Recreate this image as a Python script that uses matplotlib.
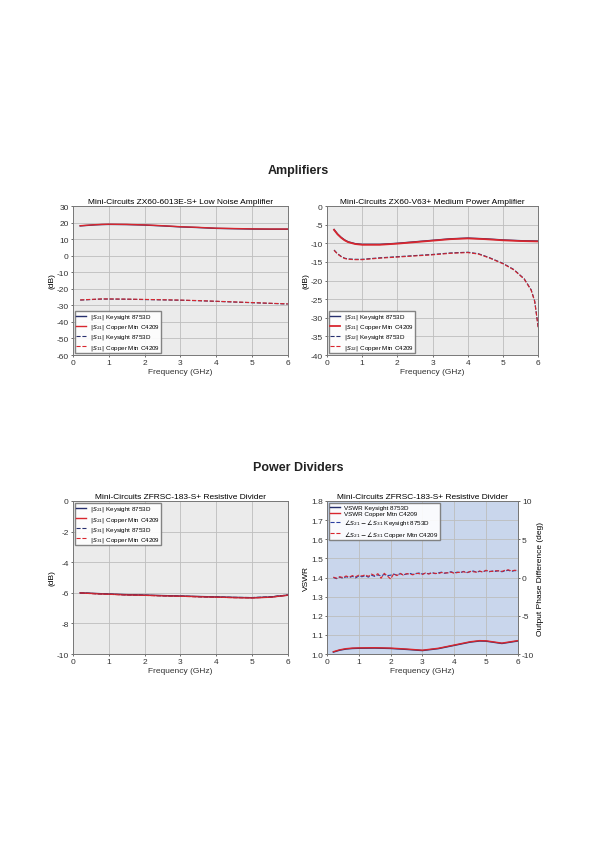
import numpy as np
import matplotlib
matplotlib.use("Agg")
import matplotlib.pyplot as plt

# ---------------- data ----------------
f_lna = [0.2, 0.4, 0.6, 0.8, 1.0, 1.5, 2.0, 2.5, 3.0, 3.5, 4.0, 4.5, 5.0, 5.5, 6.0]
lna_s21_ks = [18.0, 18.3, 18.6, 18.8, 18.9, 18.8, 18.5, 18.0, 17.4, 17.0, 16.5, 16.3, 16.1, 16.0, 16.0]
lna_s21_cm = [18.1, 18.4, 18.7, 18.9, 19.0, 18.9, 18.6, 18.1, 17.5, 17.1, 16.6, 16.4, 16.2, 16.1, 16.1]
lna_s11_ks = [-26.8, -26.6, -26.4, -26.2, -26.2, -26.3, -26.5, -26.7, -26.9, -27.2, -27.6, -28.0, -28.4, -28.8, -29.2]
lna_s11_cm = [-26.7, -26.5, -26.3, -26.1, -26.1, -26.2, -26.4, -26.6, -26.8, -27.1, -27.5, -27.9, -28.3, -28.7, -29.1]

f_pa = [0.2, 0.3, 0.4, 0.5, 0.6, 0.8, 1.0, 1.5, 2.0, 2.5, 3.0, 3.5, 4.0, 4.5, 5.0, 5.5, 6.0]
pa_s21_ks = [-6.3, -7.5, -8.4, -9.1, -9.6, -10.1, -10.3, -10.3, -10.0, -9.6, -9.2, -8.8, -8.6, -8.8, -9.1, -9.3, -9.4]
pa_s21_cm = [-6.4, -7.6, -8.5, -9.2, -9.7, -10.2, -10.4, -10.4, -10.1, -9.7, -9.3, -8.9, -8.7, -8.9, -9.2, -9.4, -9.5]
f_pa11 = [0.2, 0.3, 0.4, 0.5, 0.6, 0.8, 1.0, 1.5, 2.0, 2.5, 3.0, 3.5, 4.0, 4.3, 4.6, 5.0, 5.3, 5.6, 5.8, 5.9, 6.0]
pa_s11_ks = [-11.8, -12.8, -13.5, -14.0, -14.2, -14.3, -14.3, -13.9, -13.6, -13.3, -13.0, -12.6, -12.4,
             -12.8, -13.8, -15.4, -17.0, -19.5, -22.5, -25.5, -32.5]
pa_s11_cm = [-11.9, -12.9, -13.6, -14.1, -14.3, -14.4, -14.4, -14.0, -13.7, -13.4, -13.1, -12.7, -12.5,
             -12.9, -13.9, -15.5, -17.1, -19.6, -22.6, -25.6, -32.6]

f_div = [0.2, 0.4, 0.6, 0.8, 1.0, 1.5, 2.0, 2.5, 3.0, 3.5, 4.0, 4.5, 5.0, 5.5, 6.0]
div_s21_ks = [-6.00, -6.02, -6.04, -6.06, -6.08, -6.12, -6.15, -6.18, -6.21, -6.24, -6.27, -6.30, -6.32, -6.28, -6.15]
div_s21_cm = [-6.01, -6.03, -6.05, -6.07, -6.09, -6.13, -6.16, -6.19, -6.22, -6.25, -6.28, -6.31, -6.33, -6.29, -6.16]
div_s31_ks = [-6.02, -6.03, -6.05, -6.07, -6.09, -6.13, -6.16, -6.19, -6.22, -6.25, -6.28, -6.30, -6.31, -6.27, -6.14]
div_s31_cm = [-6.01, -6.04, -6.06, -6.08, -6.10, -6.14, -6.17, -6.20, -6.23, -6.26, -6.29, -6.32, -6.33, -6.29, -6.15]

f_vswr = [0.2, 0.4, 0.6, 0.8, 1.0, 1.5, 2.0, 2.5, 3.0, 3.5, 4.0, 4.5, 4.8, 5.0, 5.5, 6.0]
vswr_ks = [1.010, 1.020, 1.026, 1.029, 1.030, 1.031, 1.029, 1.024, 1.018, 1.028, 1.045, 1.062, 1.068, 1.067, 1.055, 1.068]
vswr_cm = [1.012, 1.022, 1.028, 1.031, 1.032, 1.033, 1.031, 1.026, 1.020, 1.030, 1.047, 1.064, 1.070, 1.069, 1.057, 1.070]

f_ph = [0.2, 0.3, 0.4, 0.5, 0.6, 0.7, 0.8, 0.9, 1.0, 1.1, 1.2, 1.3, 1.4, 1.5, 1.6, 1.7, 1.8, 1.9, 2.0,
        2.1, 2.2, 2.3, 2.4, 2.5, 2.6, 2.7, 2.8, 2.9, 3.0, 3.1, 3.2, 3.3, 3.4, 3.5, 3.6, 3.7, 3.8, 3.9,
        4.0, 4.1, 4.2, 4.3, 4.4, 4.5, 4.6, 4.7, 4.8, 4.9, 5.0, 5.1, 5.2, 5.3, 5.4, 5.5, 5.6, 5.7, 5.8, 5.9, 6.0]
phase_ks = [0.0, -0.15, 0.05, -0.1, 0.1, 0.0, 0.15, -0.05, 0.2, 0.1, 0.25, 0.05, 0.3, 0.15, 0.35, 0.2,
            0.4, 0.25, 0.3, 0.45, 0.3, 0.5, 0.35, 0.45, 0.55, 0.4, 0.5, 0.6, 0.45, 0.55, 0.5, 0.65, 0.5,
            0.6, 0.7, 0.55, 0.65, 0.75, 0.6, 0.7, 0.65, 0.8, 0.65, 0.75, 0.85, 0.7, 0.8, 0.75, 0.9, 0.75,
            0.85, 0.8, 0.9, 0.75, 0.85, 0.95, 0.8, 0.9, 0.85]
phase_cm = [0.05, -0.1, 0.1, 0.0, 0.2, 0.05, 0.25, 0.1, 0.3, 0.2, 0.35, 0.15, 0.45, 0.25, 0.5, -0.1,
            0.55, 0.2, -0.2, 0.5, 0.25, 0.55, 0.3, 0.5, 0.45, 0.35, 0.55, 0.5, 0.4, 0.6, 0.45, 0.6, 0.55,
            0.5, 0.65, 0.6, 0.6, 0.7, 0.55, 0.65, 0.7, 0.75, 0.6, 0.8, 0.75, 0.7, 0.85, 0.7, 0.95, 0.8,
            0.8, 0.9, 0.85, 0.8, 0.95, 1.0, 0.85, 0.95, 0.9]

NAVY = "#27306e"
RED = "#d8262e"
GRAYBG = "#ebebeb"
BLUEBG = "#c9d6ec"

plt.rcParams["font.family"] = ["Liberation Sans", "DejaVu Sans"]
plt.rcParams["font.size"] = 6
plt.rcParams["axes.unicode_minus"] = False

fig = plt.figure(figsize=(6.0, 8.53), dpi=100)
fig.patch.set_facecolor("white")

LEG = dict(fontsize=4.5, frameon=True, edgecolor="#777777", fancybox=False, handlelength=1.6,
           borderpad=0.25, labelspacing=0.18, handletextpad=0.5, borderaxespad=0.3, framealpha=0.9)


def style(ax, bg):
    ax.set_facecolor(bg)
    ax.grid(True, color="#bdbdbd", lw=0.6)
    ax.set_axisbelow(True)
    for s in ax.spines.values():
        s.set_color("#777777")
        s.set_linewidth(0.7)
    ax.tick_params(length=1.5, width=0.5, colors="#333333", labelsize=6, pad=1.5)
    ax.set_xlim(0, 6)
    ax.set_xticks(range(7))
    ax.set_xlabel("Frequency (GHz)", fontsize=6, labelpad=1, color="#333333")


fig.text(0.497, 0.800, "Amplifiers", ha="center", va="center", fontsize=9, fontweight="bold", color="#222222")
fig.text(0.497, 0.451, "Power Dividers", ha="center", va="center", fontsize=9, fontweight="bold", color="#222222")

# LNA
ax1 = fig.add_axes([0.1217, 0.5826, 0.358, 0.1747])
style(ax1, GRAYBG)
ax1.plot(f_lna, lna_s21_ks, color=NAVY, lw=1.0, label=r"$|S_{21}|$ Keysight 8753D")
ax1.plot(f_lna, lna_s21_cm, color=RED, lw=1.0, label=r"$|S_{21}|$ Copper Mtn C4209")
ax1.plot(f_lna, lna_s11_ks, color=NAVY, lw=0.8, ls="--", label=r"$|S_{11}|$ Keysight 8753D")
ax1.plot(f_lna, lna_s11_cm, color=RED, lw=0.8, ls="--", label=r"$|S_{11}|$ Copper Mtn C4209")
ax1.set_ylim(-60, 30)
ax1.set_yticks(range(-60, 31, 10))
ax1.set_ylabel("(dB)", fontsize=6, labelpad=1)
ax1.set_title("Mini-Circuits ZX60-6013E-S+ Low Noise Amplifier", fontsize=6, pad=2)
ax1.legend(loc="lower left", **LEG)

# PA
ax2 = fig.add_axes([0.545, 0.5826, 0.352, 0.1747])
style(ax2, GRAYBG)
ax2.plot(f_pa, pa_s21_ks, color=NAVY, lw=1.0, label=r"$|S_{21}|$ Keysight 8753D")
ax2.plot(f_pa, pa_s21_cm, color=RED, lw=1.3, label=r"$|S_{21}|$ Copper Mtn C4209")
ax2.plot(f_pa11, pa_s11_ks, color=NAVY, lw=0.8, ls="--", label=r"$|S_{22}|$ Keysight 8753D")
ax2.plot(f_pa11, pa_s11_cm, color=RED, lw=0.8, ls="--", label=r"$|S_{22}|$ Copper Mtn C4209")
ax2.set_ylim(-40, 0)
ax2.set_yticks(range(-40, 1, 5))
ax2.set_ylabel("(dB)", fontsize=6, labelpad=1)
ax2.set_title("Mini-Circuits ZX60-V63+ Medium Power Amplifier", fontsize=6, pad=2)
ax2.legend(loc="lower left", **LEG)

# Divider magnitude
ax3 = fig.add_axes([0.1217, 0.2321, 0.358, 0.1794])
style(ax3, GRAYBG)
ax3.plot(f_div, div_s21_ks, color=NAVY, lw=1.0, label=r"$|S_{21}|$ Keysight 8753D")
ax3.plot(f_div, div_s21_cm, color=RED, lw=1.0, label=r"$|S_{21}|$ Copper Mtn C4209")
ax3.plot(f_div, div_s31_ks, color=NAVY, lw=0.8, ls="--", label=r"$|S_{31}|$ Keysight 8753D")
ax3.plot(f_div, div_s31_cm, color=RED, lw=0.8, ls="--", label=r"$|S_{31}|$ Copper Mtn C4209")
ax3.set_ylim(-10, 0)
ax3.set_yticks(range(-10, 1, 2))
ax3.set_ylabel("(dB)", fontsize=6, labelpad=1)
ax3.set_title("Mini-Circuits ZFRSC-183-S+ Resistive Divider", fontsize=6, pad=2)
ax3.legend(loc="upper left", **LEG)

# Divider VSWR + phase
ax4 = fig.add_axes([0.545, 0.2321, 0.318, 0.1794])
style(ax4, BLUEBG)
l1, = ax4.plot(f_vswr, vswr_ks, color=NAVY, lw=1.0, label="VSWR Keysight 8753D")
l2, = ax4.plot(f_vswr, vswr_cm, color=RED, lw=1.0, label="VSWR Copper Mtn C4209")
ax4.set_ylim(1.0, 1.8)
ax4.set_yticks(np.arange(1.0, 1.81, 0.1))
ax4.set_ylabel("VSWR", fontsize=6, labelpad=1)
ax4.set_title("Mini-Circuits ZFRSC-183-S+ Resistive Divider", fontsize=6, pad=2)
ax4b = ax4.twinx()
l3, = ax4b.plot(f_ph, phase_ks, color="#2a3fa0", lw=0.8, ls="--",
                label=r"$\angle S_{21}-\angle S_{31}$ Keysight 8753D")
l4, = ax4b.plot(f_ph, phase_cm, color=RED, lw=0.8, ls="--",
                label=r"$\angle S_{21}-\angle S_{31}$ Copper Mtn C4209")
ax4b.set_ylim(-10, 10)
ax4b.set_yticks([-10, -5, 0, 5, 10])
ax4b.tick_params(length=1.5, width=0.5, colors="#333333", labelsize=6, pad=1.5)
ax4b.set_ylabel("Output Phase Difference (deg)", fontsize=6, labelpad=2)
for s in ax4b.spines.values():
    s.set_color("#777777")
    s.set_linewidth(0.7)
ax4b.legend(handles=[l1, l2, l3, l4], loc="upper left", **LEG)

fig.savefig("out.png", dpi=100, facecolor="white")
